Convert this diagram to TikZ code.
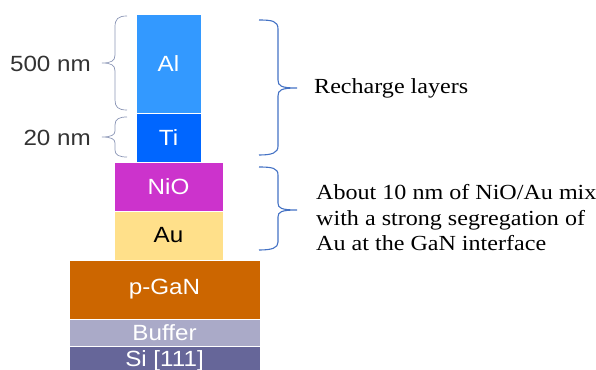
\documentclass[tikz,border=0pt]{standalone}
\usepackage{fontspec}
\setmainfont{Liberation Serif}[FakeStretch=1.12]
\newfontfamily\arialf{Liberation Sans}[FakeStretch=1.1]
\definecolor{cAl}{HTML}{3399FF}
\definecolor{cTi}{HTML}{0066FF}
\definecolor{cNiO}{HTML}{CC33CC}
\definecolor{cAu}{HTML}{FFE08A}
\definecolor{cGaN}{HTML}{CC6600}
\definecolor{cBuf}{HTML}{AAAAC8}
\definecolor{cSi}{HTML}{666699}
\definecolor{bracR}{HTML}{4472C4}
\definecolor{bracL}{HTML}{8A95B5}
\definecolor{lbl}{HTML}{333333}
\begin{document}
\begin{tikzpicture}[x=1pt,y=-1pt,
  layer/.style={anchor=north west,inner sep=0pt,outer sep=0pt,draw=white,line width=0.4pt,
    font=\arialf\fontsize{22}{24}\selectfont,text=white},
  lefttxt/.style={anchor=east,inner sep=0pt,font=\arialf\fontsize{22}{24}\selectfont,text=lbl},
  righttxt/.style={anchor=west,inner sep=0pt,align=left,font=\fontsize{21.5}{25.5}\selectfont,text=black},
  rbrace/.style={draw=bracR,line width=1.1pt},
  lbrace/.style={draw=bracL,line width=0.7pt}]
\useasboundingbox (0,0) rectangle (596,369);
\clip (0,0) rectangle (596,369);
% layers
\node[layer,fill=cAl,minimum width=65pt,minimum height=99pt] (al) at (136,14) {Al};
\node[layer,fill=cTi,minimum width=65pt,minimum height=49pt] (ti) at (136,113) {Ti};
\node[layer,fill=cNiO,minimum width=109pt,minimum height=49pt] (nio) at (114,162) {NiO};
\node[layer,fill=cAu,minimum width=109pt,minimum height=49pt,text=black] (au) at (114,211) {Au};
\node[layer,fill=cGaN,minimum width=191pt,minimum height=59pt] (gan) at (69,260) {p-GaN};
\node[layer,fill=cBuf,minimum width=191pt,minimum height=27pt] (buf) at (69,319) {Buffer};
\node[layer,fill=cSi,minimum width=191pt,minimum height=30pt] (si) at (69,346) {Si [111]};
% left labels
\node[lefttxt] (l500) at (91,64) {500 nm};
\node[lefttxt] (l20) at (91,138) {20 nm};
% right labels
\node[righttxt] (rech) at (314,88) {Recharge layers};
\node[righttxt] (mix) at (316,218) {About 10 nm of NiO/Au mix\\with a strong segregation of\\Au at the GaN interface};
% left braces
\draw[lbrace] (127,16) .. controls (118,16) and (115,19) .. (115,27) -- (115,55)
  .. controls (115,61) and (111,63) .. (102,63)
  .. controls (111,63) and (115,65) .. (115,71) -- (115,100)
  .. controls (115,107) and (118,110) .. (127,110);
\draw[lbrace] (127,117) .. controls (119,117) and (115,119) .. (115,125) -- (115,131)
  .. controls (115,135) and (111,137) .. (102,137)
  .. controls (111,137) and (115,139) .. (115,143) -- (115,150)
  .. controls (115,155) and (119,157) .. (127,157);
% right braces
\draw[rbrace] (259,20) .. controls (272,20) and (278,21) .. (278,29) -- (278,80)
  .. controls (278,86) and (281,88) .. (297,88)
  .. controls (281,88) and (278,90) .. (278,96) -- (278,146)
  .. controls (278,153) and (272,155) .. (259,155);
\draw[rbrace] (259,167) .. controls (272,167) and (278,168) .. (278,175) -- (278,203)
  .. controls (278,208) and (281,210) .. (297,210)
  .. controls (281,210) and (278,212) .. (278,217) -- (278,242)
  .. controls (278,248) and (272,250) .. (259,250);
\end{tikzpicture}
\end{document}
